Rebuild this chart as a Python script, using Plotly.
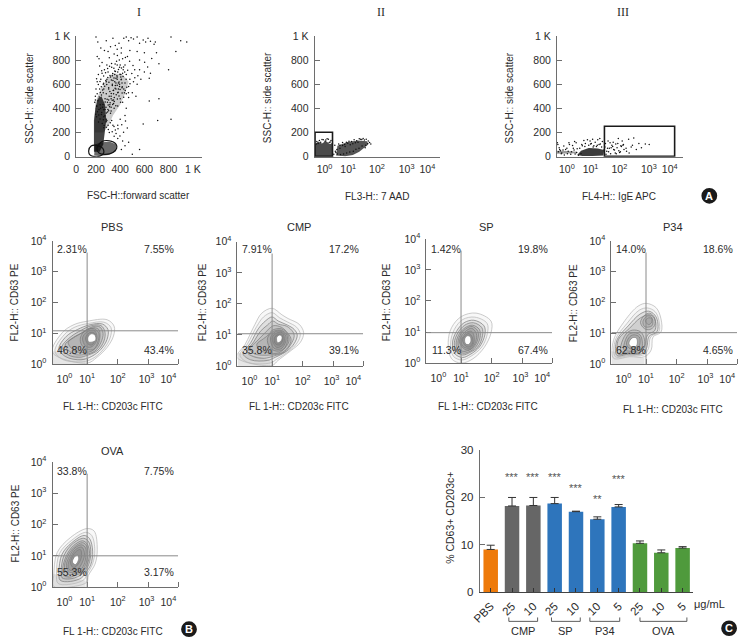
import plotly.graph_objects as go

W, H = 738, 644
FONT = "Liberation Sans, Arial, sans-serif"
TXT = "#2b2b2b"
AX = "#6e6e6e"
FS = 10

# ---------- Panel A data ----------
I_X = [200,215,240,210,225,250,270,285,300,320,340,360,375,390,410,430,450,470,490,510,540,560,590,610,630,650,680,700,690,820,900,950,860,800,720,720,710,820,590,640,640,650,600,560,520,560,600,540,480,460,420,440,400,370,350,310,290,270,250,230,220,200,210,240,300,330,380,420,450,480,510,540,470,440,410,500,530,470,450,430,420,450,440,400,380,360,350,380,420,470,440,410,500,560,330,340,300,310,290,320,350,380,400,380,360,340,320,290,260,260,230,210,195,190,395,415,375,355,335,305,285,345,365,385,405,325,345,365,275,295,315,235,255,275,295,315,335,355,375,395,415,435,245,265,285,305,325,345,365,385,405,425,225,205,195,245,265,285,305,335,355,375,395,345,325,305,285,265,
 205,212,223,238,247,258,264,276,283,292,301,309,317,326,334,342,351,358,367,375,383,391,399,408,417,198,206,216,227,236,244,255,263,272,281,289,298,307,316,327,338,349,361,373,386,398,411,424,437,449,261,273,286,299,312,325,338,351,364,377,390,403,416,429,442,455,468,481,221,234,252,268,285,302,318,334,349,366,382,398,413,428,444,459,348,329,312,296,279,263,247,233,219,205,443,409,377,358,393,428,462,496,521,546,571,506,478,602,627,661]
I_Y = [990,950,900,830,810,780,880,960,870,910,980,920,890,940,900,980,990,960,985,975,990,940,965,950,980,955,930,860,950,990,960,950,870,720,770,480,300,310,270,460,650,690,700,720,720,800,860,870,880,830,810,760,760,790,850,820,760,720,690,750,680,560,620,640,700,740,700,690,680,640,620,600,580,610,640,530,500,490,520,560,450,400,340,310,260,220,170,150,130,120,90,60,20,60,300,260,260,200,300,360,400,420,480,530,590,630,660,640,600,530,560,520,500,450,580,610,640,680,600,560,520,520,560,610,660,480,470,650,480,450,430,430,410,390,370,540,590,620,660,600,570,530,350,330,310,470,500,550,610,560,680,720,390,420,470,510,560,620,570,670,710,760,740,440,410,380,290,240,
 330,372,345,402,365,431,388,452,409,476,428,501,447,523,468,547,489,566,512,591,534,618,556,637,579,352,417,463,495,531,578,552,607,583,631,598,655,617,672,634,688,652,706,669,721,683,735,664,702,641,305,338,362,391,413,378,432,456,421,478,503,451,527,491,548,574,529,603,287,312,274,258,243,226,281,207,249,191,231,172,265,203,296,238,733,772,748,729,695,668,711,622,598,645,822,858,838,767,801,742,716,688,654,671,641,755,791,781,742,812]
I_DENSE_X = [183,183,195,215,245,275,285,270,260,230,183]
I_DENSE_Y = [40,300,400,480,500,430,300,180,100,40,40]
I_BOT_X = [185,190,240,310,370,360,300,225,185]
I_BOT_Y = [10,100,118,125,100,40,15,5,10]
I_MID_X = [190,195,240,290,340,420,470,440,400,340,300,260,190,190]
I_MID_Y = [280,450,560,640,690,680,620,520,430,340,250,200,200,280]
I_GATE1_X = [140,160,205,255,263,235,190,150,140]
I_GATE1_Y = [50,88,94,70,30,6,0,15,50]
I_GATE2_X = [208,250,310,365,371,340,280,225,208]
I_GATE2_Y = [70,125,132,105,70,35,19,30,70]

II_X = [-0.3,-0.2,-0.1,0.05,0.15,0.25,-0.32,-0.15,0.02,0.18,0.3,0.4,0.42,0.48,0.55,0.6,0.7,0.78,0.85,0.95,1.05,1.15,1.25,1.35,1.45,1.55,1.62,1.7,1.75,1.8,1.5,1.4,1.3,1.2,1.1,1.0,0.9,0.8,0.7,0.6,1.6,1.68,1.58,1.46,1.34,1.22,1.12,0.98,0.86,0.74,0.62,0.5,0.44,0.36,-0.25,-0.05,0.1,0.22]
II_Y = [125,135,142,138,145,135,105,120,128,118,110,95,45,60,105,95,118,100,120,128,125,140,132,148,142,138,145,130,118,105,150,145,120,115,108,98,112,85,92,70,95,110,75,88,70,62,45,38,30,22,18,22,35,20,110,140,148,122]
II_D1_X = [-0.385,-0.385,-0.25,-0.1,0.05,0.2,0.32,0.32,-0.385]
II_D1_Y = [2,100,125,110,130,105,110,2,2]
II_D2_X = [0.45,0.5,0.9,1.3,1.65,1.7,1.35,1.1,0.8,0.45]
II_D2_Y = [10,90,122,135,128,100,40,15,3,10]

III_X = [-0.35,-0.3,-0.25,-0.2,-0.12,-0.05,0.02,0.1,0.18,0.25,0.32,0.4,-0.33,-0.22,-0.1,0.05,0.15,0.28,0.38,0.45,0.5,0.58,0.66,0.72,0.8,0.9,1.0,1.1,1.2,1.3,1.38,0.55,0.7,0.85,0.95,1.05,1.15,1.25,1.35,-0.37,-0.28,0.0,0.22,0.36,1.45,1.5,1.55,1.6,1.65,1.7,1.75,1.8,1.85,1.9,1.95,2.0,2.05,2.1,2.15,2.2,2.3,2.4,2.5,2.6,2.7,2.8,2.9,3.05,3.2,1.52,1.62,1.72,1.82,1.92,2.02,2.12,2.22,2.32,2.42,2.55,1.48,1.58,1.68,1.78,1.88,1.98,2.08,2.18,0.3,0.6,0.92,1.02,1.28,1.18,-0.15,0.08]
III_Y = [100,75,50,30,88,60,25,100,40,70,22,65,40,25,15,45,20,55,35,12,70,100,135,110,140,130,145,120,140,105,125,25,85,95,110,90,85,100,80,115,60,70,92,115,60,110,45,130,70,25,95,120,55,105,75,150,35,90,130,100,70,145,80,155,60,110,75,105,100,20,40,75,60,25,50,85,60,45,30,95,80,70,115,85,30,110,40,95,125,90,105,80,150,95,55,115]
III_D1_X = [0.4,0.55,0.85,1.2,1.45,1.42,1.0,0.6,0.4]
III_D1_Y = [15,50,72,68,55,10,5,5,15]
III_D2_X = [-0.385,-0.385,0.0,0.4,0.4,0.0,-0.385]
III_D2_Y = [25,50,48,40,28,26,25]

# ---------- Panel B data: contour outlines in decades ----------
PBS_X = [
 [-0.13,0.19,0.57,1.0,1.65,1.88,1.86,1.65,1.32,1.0,-0.13],
 [-0.05,0.25,0.6,1.05,1.55,1.78,1.75,1.55,1.25,0.9,0.2,-0.05],
 [0.08,0.32,0.68,1.1,1.5,1.68,1.65,1.45,1.15,0.8,0.3,0.08],
 [0.18,0.42,0.72,1.15,1.45,1.58,1.55,1.35,1.05,0.72,0.38,0.18],
 [0.28,0.48,0.8,1.2,1.42,1.52,1.45,1.25,0.98,0.65,0.42,0.28],
 [0.38,0.55,0.85,1.22,1.38,1.42,1.35,1.15,0.9,0.6,0.38],
 [0.78,0.95,1.22,1.38,1.36,1.22,1.0,0.82,0.78],
 [0.85,1.0,1.22,1.32,1.28,1.12,0.95,0.85],
 [0.95,1.08,1.25,1.28,1.15,1.02,0.95],
 [1.02,1.12,1.25,1.28,1.18,1.05,1.02],
]
PBS_Y = [
 [0.38,1.02,1.28,1.39,1.44,1.23,0.91,0.54,0.22,0.03,0.38],
 [0.42,0.95,1.2,1.32,1.36,1.18,0.85,0.5,0.22,0.08,0.15,0.42],
 [0.5,0.9,1.12,1.28,1.3,1.12,0.8,0.48,0.25,0.14,0.24,0.5],
 [0.55,0.85,1.05,1.25,1.25,1.05,0.75,0.45,0.3,0.22,0.3,0.55],
 [0.62,0.82,1.0,1.22,1.2,1.0,0.7,0.42,0.32,0.3,0.42,0.62],
 [0.7,0.85,1.02,1.18,1.12,0.92,0.62,0.42,0.38,0.42,0.7],
 [0.85,1.1,1.15,1.0,0.75,0.48,0.48,0.62,0.85],
 [0.85,1.05,1.1,0.92,0.7,0.55,0.58,0.85],
 [0.85,1.02,1.0,0.82,0.62,0.66,0.85],
 [0.85,0.98,0.95,0.78,0.72,0.72,0.85],
]
CMP_X = [
 [-0.15,0.12,0.44,0.66,1.0,1.32,1.52,1.89,2.03,1.92,1.62,1.19,1.0,-0.15],
 [-0.05,0.2,0.5,0.72,1.0,1.25,1.5,1.8,1.92,1.82,1.55,1.15,0.95,0.2,-0.05],
 [0.05,0.3,0.55,0.78,1.0,1.2,1.5,1.72,1.82,1.72,1.48,1.1,0.85,0.3,0.05],
 [0.18,0.4,0.62,0.85,1.02,1.2,1.48,1.68,1.72,1.6,1.4,1.05,0.75,0.4,0.18],
 [0.28,0.5,0.72,0.9,1.05,1.3,1.52,1.62,1.52,1.3,1.0,0.65,0.4,0.28],
 [0.5,0.72,0.9,1.0,1.3,1.52,1.55,1.42,1.2,0.9,0.62,0.5],
 [0.85,1.05,1.3,1.48,1.5,1.38,1.15,0.92,0.85],
 [0.95,1.1,1.3,1.45,1.42,1.28,1.05,0.95],
 [1.0,1.12,1.32,1.4,1.35,1.15,1.0],
 [1.08,1.2,1.32,1.35,1.25,1.1,1.08],
 [1.15,1.25,1.32,1.3,1.18,1.15],
]
CMP_Y = [
 [0.28,0.7,1.34,1.7,1.86,1.65,1.53,1.34,1.07,0.76,0.5,0.18,0.02,0.28],
 [0.35,0.72,1.28,1.58,1.72,1.55,1.42,1.25,1.02,0.75,0.48,0.22,0.1,0.12,0.35],
 [0.4,0.75,1.2,1.45,1.58,1.45,1.32,1.18,1.0,0.72,0.48,0.28,0.18,0.2,0.4],
 [0.45,0.78,1.12,1.32,1.45,1.35,1.28,1.1,0.95,0.68,0.45,0.32,0.25,0.3,0.45],
 [0.55,0.8,1.02,1.2,1.3,1.25,1.05,0.85,0.6,0.42,0.36,0.35,0.4,0.55],
 [0.7,0.88,1.02,1.15,1.2,1.0,0.8,0.58,0.42,0.42,0.5,0.7],
 [0.9,1.12,1.15,1.0,0.8,0.55,0.48,0.6,0.9],
 [0.92,1.1,1.12,0.95,0.72,0.55,0.58,0.92],
 [0.9,1.05,1.08,0.88,0.68,0.6,0.9],
 [0.92,1.02,1.0,0.85,0.68,0.72,0.92],
 [0.92,1.0,0.95,0.82,0.75,0.92],
]
SP_X = [
 [0.58,0.69,1.01,1.49,1.98,1.98,1.76,1.39,1.01,0.69,0.58],
 [0.66,0.78,1.05,1.45,1.85,1.86,1.68,1.32,1.03,0.75,0.66],
 [0.72,0.85,1.1,1.42,1.75,1.78,1.6,1.3,1.05,0.8,0.72],
 [0.78,0.9,1.12,1.4,1.68,1.7,1.55,1.28,1.05,0.85,0.78],
 [0.84,0.95,1.15,1.38,1.6,1.62,1.48,1.25,1.06,0.9,0.84],
 [0.9,1.0,1.15,1.36,1.55,1.55,1.42,1.22,1.05,0.94,0.9],
 [0.95,1.05,1.18,1.35,1.5,1.48,1.35,1.2,1.05,0.95],
 [1.0,1.1,1.2,1.35,1.42,1.42,1.3,1.18,1.05,1.0],
 [1.05,1.15,1.25,1.36,1.38,1.28,1.15,1.05],
 [1.12,1.2,1.3,1.32,1.25,1.15,1.12],
]
SP_Y = [
 [0.66,1.14,1.5,1.61,1.35,0.98,0.51,0.14,0.0,0.14,0.66],
 [0.65,1.08,1.4,1.48,1.28,0.95,0.52,0.22,0.1,0.22,0.65],
 [0.65,1.02,1.3,1.38,1.2,0.92,0.52,0.28,0.18,0.3,0.65],
 [0.65,0.98,1.22,1.3,1.14,0.88,0.52,0.34,0.26,0.36,0.65],
 [0.65,0.95,1.15,1.22,1.08,0.82,0.52,0.36,0.32,0.42,0.65],
 [0.68,0.95,1.1,1.18,1.02,0.78,0.52,0.4,0.38,0.48,0.68],
 [0.7,0.92,1.05,1.12,0.95,0.7,0.48,0.42,0.5,0.7],
 [0.72,0.9,1.0,1.02,0.88,0.66,0.48,0.48,0.55,0.72],
 [0.75,0.9,0.95,0.85,0.65,0.52,0.55,0.75],
 [0.78,0.88,0.85,0.7,0.6,0.62,0.78],
]
P34_X = [
 [-0.06,0.31,0.74,1.01,1.33,1.49,1.49,1.23,1.17,0.96,0.47,-0.06,-0.06],
 [0.0,0.38,0.78,1.05,1.3,1.42,1.42,1.15,1.08,0.92,0.45,0.0,0.0],
 [0.05,0.42,0.8,1.08,1.28,1.38,1.36,1.1,1.02,0.88,0.42,0.05,0.05],
 [0.1,0.45,0.82,1.1,1.25,1.32,1.28,1.05,0.96,0.82,0.4,0.1,0.1],
 [0.18,0.35,0.55,0.82,0.95,0.92,0.75,0.42,0.18,0.18],
 [0.28,0.42,0.6,0.8,0.88,0.85,0.7,0.42,0.28,0.28],
 [0.36,0.48,0.62,0.78,0.8,0.72,0.48,0.36],
 [0.44,0.55,0.68,0.72,0.68,0.52,0.44],
 [0.82,0.95,1.12,1.28,1.28,1.12,0.95,0.82],
 [0.9,1.02,1.15,1.22,1.2,1.08,0.95,0.9],
 [0.98,1.08,1.18,1.18,1.08,0.98],
]
P34_Y = [
 [0.77,1.41,1.88,1.97,1.83,1.46,1.04,0.88,0.46,0.24,0.24,0.19,0.77],
 [0.78,1.32,1.75,1.82,1.7,1.42,1.05,0.88,0.5,0.3,0.28,0.24,0.78],
 [0.78,1.24,1.62,1.72,1.6,1.38,1.05,0.9,0.52,0.34,0.32,0.28,0.78],
 [0.8,1.15,1.5,1.6,1.52,1.32,1.08,0.95,0.58,0.38,0.35,0.32,0.8],
 [0.6,0.98,1.1,1.05,0.8,0.5,0.36,0.36,0.42,0.6],
 [0.62,0.95,1.02,0.95,0.72,0.5,0.42,0.42,0.46,0.62],
 [0.65,0.9,0.95,0.88,0.65,0.48,0.5,0.65],
 [0.68,0.85,0.85,0.72,0.58,0.56,0.68],
 [1.35,1.58,1.65,1.5,1.25,1.12,1.15,1.35],
 [1.38,1.55,1.55,1.42,1.25,1.2,1.22,1.38],
 [1.4,1.5,1.48,1.35,1.28,1.4],
]
OVA_X = [
 [-0.09,0.02,0.45,0.99,1.23,1.33,1.26,1.04,0.99,0.56,-0.09,-0.09],
 [0.0,0.1,0.5,0.95,1.15,1.25,1.18,1.0,0.9,0.5,0.05,0.0],
 [0.08,0.18,0.5,0.9,1.08,1.18,1.12,0.95,0.82,0.45,0.12,0.08],
 [0.15,0.25,0.52,0.88,1.05,1.12,1.05,0.9,0.75,0.42,0.18,0.15],
 [0.2,0.32,0.55,0.85,1.0,1.08,1.0,0.85,0.68,0.42,0.24,0.2],
 [0.26,0.36,0.58,0.85,0.98,1.02,0.95,0.8,0.62,0.4,0.26],
 [0.32,0.42,0.6,0.82,0.95,0.96,0.9,0.75,0.58,0.42,0.32],
 [0.38,0.48,0.62,0.82,0.9,0.9,0.72,0.55,0.42,0.38],
 [0.46,0.52,0.65,0.78,0.82,0.72,0.56,0.46],
 [0.52,0.6,0.7,0.72,0.62,0.52],
]
OVA_Y = [
 [0.37,1.1,1.58,1.87,1.79,1.21,0.74,0.37,0.16,0.02,0.02,0.37],
 [0.42,1.08,1.5,1.75,1.65,1.18,0.75,0.42,0.24,0.1,0.12,0.42],
 [0.48,1.05,1.42,1.65,1.55,1.15,0.72,0.46,0.3,0.18,0.22,0.48],
 [0.52,1.02,1.38,1.56,1.45,1.12,0.72,0.48,0.36,0.26,0.3,0.52],
 [0.58,1.0,1.32,1.48,1.38,1.08,0.72,0.48,0.4,0.32,0.38,0.58],
 [0.62,0.98,1.28,1.42,1.32,1.05,0.72,0.5,0.44,0.4,0.62],
 [0.68,0.98,1.25,1.35,1.25,1.02,0.72,0.52,0.48,0.48,0.68],
 [0.72,0.98,1.2,1.28,1.15,0.95,0.6,0.54,0.55,0.72],
 [0.75,0.98,1.15,1.2,1.0,0.75,0.62,0.75],
 [0.8,0.98,1.02,0.88,0.72,0.8],
]
LOWER_X = [-0.13,-0.13,0.3,0.95,0.95,-0.13]
LOWER_Y = [0.0,0.42,0.36,0.2,0.0,0.0]

# ---------- Panel C data ----------
BAR_LABELS = ["PBS","25","10","25","10","10","5","25","10","5"]
BAR_VALUES = [9.0,18.2,18.3,18.7,17.0,15.4,18.0,10.3,8.3,9.3]
BAR_ERRORS = [0.9,1.8,1.7,1.3,0.1,0.5,0.5,0.5,0.6,0.3]
BAR_COLORS = ["#EE7A0A","#666666","#666666","#2E75BC","#2E75BC","#2E75BC","#2E75BC","#4F9A3C","#4F9A3C","#4F9A3C"]
STARS = ["","***","***","***","***","**","***","","",""]
STAR_Y = [0,24.4,24.4,24.4,22.0,19.7,24.0,0,0,0]
GROUPS = ["CMP","SP","P34","OVA"]
GROUP_FROM = [0.85,2.85,4.65,7.0]
GROUP_TO = [2.2,4.2,6.05,9.2]

PERCENTS = {
 "PBS": ["2.31%","7.55%","46.8%","43.4%"],
 "CMP": ["7.91%","17.2%","35.8%","39.1%"],
 "SP":  ["1.42%","19.8%","11.3%","67.4%"],
 "P34": ["14.0%","18.6%","62.8%","4.65%"],
 "OVA": ["33.8%","7.75%","55.3%","3.17%"],
}

fig = go.Figure()
layout = dict(width=W, height=H, autosize=False, margin=dict(l=0, r=0, t=0, b=0),
              paper_bgcolor="white", plot_bgcolor="white", showlegend=False,
              font=dict(family=FONT, size=FS, color=TXT))
ann, shp = [], []
n = 0

def text(px, py, s, size=FS, color=TXT, angle=0, family=FONT):
    ann.append(dict(xref="paper", yref="paper", x=px / W, y=1 - py / H, text=s, showarrow=False,
                    font=dict(size=size, color=color, family=family), textangle=angle,
                    xanchor="center", yanchor="middle"))

def axes(l, r, t, b, xr, yr, xvals, xtext, yvals, ytext, xminor=None, stand=5, tfs=FS + 0.5):
    global n
    n += 1
    sx = "" if n == 1 else str(n)
    xa = dict(domain=[l / W, r / W], range=xr, anchor="y" + sx, showgrid=False, zeroline=False,
              showline=True, linecolor=AX, linewidth=1, tickmode="array", tickvals=xvals, ticktext=xtext,
              ticks="", ticklabelstandoff=stand, tickfont=dict(size=tfs, color=TXT, family=FONT))
    if xminor:
        xa["minor"] = dict(tickmode="array", tickvals=xminor, ticks="inside", ticklen=5, tickcolor=AX, tickwidth=1)
    ya = dict(domain=[1 - b / H, 1 - t / H], range=yr, anchor="x" + sx, showgrid=False, zeroline=False,
              showline=True, linecolor=AX, linewidth=1, tickmode="array", tickvals=yvals, ticktext=ytext,
              ticks="inside", ticklen=5, tickcolor=AX, tickwidth=1, ticklabelstandoff=3,
              tickfont=dict(size=tfs, color=TXT, family=FONT))
    layout["xaxis" + sx] = xa
    layout["yaxis" + sx] = ya
    return "x" + sx, "y" + sx

def dots(x, y, xa, ya, size=1.5):
    fig.add_trace(go.Scatter(x=x, y=y, xaxis=xa, yaxis=ya, mode="markers",
                             marker=dict(size=size, color="#111111", line=dict(width=0))))

def blob(x, y, xa, ya, color):
    fig.add_trace(go.Scatter(x=x, y=y, xaxis=xa, yaxis=ya, mode="lines", fill="toself",
                             fillcolor=color, line=dict(width=0)))

def loop(x, y, xa, ya, color="#111111", width=1.2, fill=None):
    kw = dict(fill="toself", fillcolor=fill) if fill else {}
    fig.add_trace(go.Scatter(x=x, y=y, xaxis=xa, yaxis=ya, mode="lines",
                             line=dict(color=color, width=width, shape="spline", smoothing=1), **kw))

def gate(xa, ya, x0, x1, y1):
    shp.append(dict(type="rect", xref=xa, yref=ya, x0=x0, x1=x1, y0=4, y1=y1,
                    line=dict(color="#1a1a1a", width=1.6)))

ssc_vals = [0, 200, 400, 600, 800, 1000]
ssc_text = ["0", "200", "400", "600", "800", "1 K"]
dec = ["10<sup>0</sup>", "10<sup>1</sup>", "10<sup>2</sup>", "10<sup>3</sup>", "10<sup>4</sup>"]

# Panel I
xa, ya = axes(69, 196, 28.5, 152, [37, 1075], [0, 1000], [37, 200, 400, 600, 800, 1000], ssc_text, ssc_vals, ssc_text, stand=3)
blob(I_MID_X, I_MID_Y, xa, ya, "rgba(20,20,20,0.22)")
blob(I_BOT_X, I_BOT_Y, xa, ya, "rgba(5,5,5,0.6)")
blob(I_DENSE_X, I_DENSE_Y, xa, ya, "rgba(5,5,5,0.75)")
dots(I_X, I_Y, xa, ya)
loop(I_GATE1_X, I_GATE1_Y, xa, ya)
loop(I_GATE2_X, I_GATE2_Y, xa, ya)
# Panel II
log_ticks = [0, 0.92, 2.04, 3.19, 4.0]
xa, ya = axes(310, 437, 28.5, 152, [-0.385, 4.5], [0, 1000], log_ticks, dec, ssc_vals, ssc_text, stand=3)
blob(II_D1_X, II_D1_Y, xa, ya, "rgba(5,5,5,0.72)")
blob(II_D2_X, II_D2_Y, xa, ya, "rgba(5,5,5,0.68)")
dots(II_X, II_Y, xa, ya)
gate(xa, ya, -0.37, 0.31, 202)
# Panel III
xa, ya = axes(555, 682, 28.5, 152, [-0.385, 4.5], [0, 1000], log_ticks, dec, ssc_vals, ssc_text, stand=3)
blob(III_D2_X, III_D2_Y, xa, ya, "rgba(5,5,5,0.4)")
blob(III_D1_X, III_D1_Y, xa, ya, "rgba(5,5,5,0.78)")
dots(III_X, III_Y, xa, ya)
gate(xa, ya, 1.46, 4.19, 252)

for s, px in (("I", 132), ("II", 377), ("III", 622)):
    text(px, 4, s, size=12, family="Liberation Serif, serif")
text(132, 192, "FSC-H::forward scatter")
text(373, 193, "FL3-H:: 7 AAD")
text(618, 193, "FL4-H:: IgE APC")
for px in (22, 263, 508):
    text(px, 92, "SSC-H:: side scatter", angle=-90)

# Panel B
flow_ticks = [0.26, 1, 2, 2.94, 3.65]
WHITE_RING = {"P34": 7}
panels = [
 ("PBS", 45, 238, 364, PBS_X, PBS_Y, 105, 224, 7, 301, 106, 407, True, 246, 350, 1.08),
 ("CMP", 232, 239, 366, CMP_X, CMP_Y, 294, 224, 197, 301, 294, 407, True, 246, 350, 1.04),
 ("SP", 423, 236, 363, SP_X, SP_Y, 484, 224, 383, 301, 485, 407, False, 246, 350, 0.98),
 ("P34", 610, 238, 364, P34_X, P34_Y, 672, 224, 572, 302, 672, 410, True, 246, 350, 1.02),
 ("OVA", 45, 464, 592, OVA_X, OVA_Y, 106, 453, 8, 527, 106, 637, True, 473, 577, 1.0),
]
for name, l, t, b, rx, ry, tx, ty, yx, yy, fx, fy, low, p_top, p_bot, hline in panels:
    xa, ya = axes(l, l + 127, t, b, [-0.13, 3.97], [0, 4], flow_ticks, dec, [0, 1, 2, 3, 4], dec,
                  xminor=[1, 2, 3, 3.97])
    if low:
        fig.add_trace(go.Scatter(x=LOWER_X, y=LOWER_Y, xaxis=xa, yaxis=ya, mode="lines", fill="toself",
                                 fillcolor="#e6e6e6", line=dict(width=0)))
    white = WHITE_RING.get(name, len(rx) - 1)
    for i, (cx, cy) in enumerate(zip(rx, ry)):
        fill = "#ffffff" if i == white else ("rgba(70,70,70,0.04)" if i < 2 else "rgba(60,60,60,0.09)")
        loop(cx, cy, xa, ya, color="#b4b4b4" if i < 2 else "#7a7a7a", width=0.7, fill=fill)
    shp.append(dict(type="line", xref=xa, yref="paper", x0=1, x1=1, y0=1 - b / H, y1=1 - (t + 12) / H,
                    line=dict(color="#8a8a8a", width=1)))
    shp.append(dict(type="line", xref=xa, yref=ya, x0=-0.13, x1=3.97, y0=hline, y1=hline,
                    line=dict(color="#8a8a8a", width=1)))
    text(tx, ty, name, size=FS + 1)
    text(yx, yy, "FL2-H:: CD63 PE", angle=-90)
    text(fx, fy, "FL 1-H:: CD203c FITC")
    vals = PERCENTS[name]
    text(l + 20, p_top, vals[0], size=FS + 0.5)
    text(l + 108, p_top, vals[1], size=FS + 0.5)
    text(l + 20, p_bot, vals[2], size=FS + 0.5)
    text(l + 108, p_bot, vals[3], size=FS + 0.5)

# Panel C
xa, ya = axes(477, 693, 452, 597, [-0.51, 9.51], [0, 30], list(range(10)), BAR_LABELS, [0, 10, 20, 30],
              ["0", "10", "20", "30"], tfs=11.5)
layout[xa.replace("x", "xaxis")].update(tickangle=-45, ticks="inside", ticklen=4, tickcolor="#333333",
                                        ticklabelstandoff=2, linecolor="#444444")
fig.add_trace(go.Bar(x=list(range(10)), y=BAR_VALUES, xaxis=xa, yaxis=ya, width=0.68,
                     marker=dict(color=BAR_COLORS, line=dict(width=0)),
                     error_y=dict(type="data", array=BAR_ERRORS, symmetric=False, arrayminus=[0] * 10,
                                  color="#333333", thickness=1, width=4)))
for i, (s, sy) in enumerate(zip(STARS, STAR_Y)):
    if s:
        ann.append(dict(xref=xa, yref=ya, x=i, y=sy, text=s, showarrow=False,
                        font=dict(size=11, color="#555555", family=FONT)))
for g, a, b in zip(GROUPS, GROUP_FROM, GROUP_TO):
    y0, y1 = 1 - 627 / H, 1 - 623 / H
    for x0, x1, yy0, yy1 in ((a, b, y0, y0), (a, a, y0, y1), (b, b, y0, y1)):
        shp.append(dict(type="line", xref=xa, yref="paper", x0=x0, x1=x1, y0=yy0, y1=yy1,
                        line=dict(color="#333333", width=0.8)))
    ann.append(dict(xref=xa, yref="paper", x=(a + b) / 2, y=1 - 637 / H, text=g, showarrow=False,
                    yanchor="middle", font=dict(size=11, color=TXT, family=FONT)))
text(709, 609, "μg/mL", size=11)
text(447, 521, "% CD63+ CD203c+", angle=-90, size=10.5)

# Panel letters
for s, cx, cy in (("A", 709, 192), ("B", 183, 635), ("C", 729, 634)):
    shp.append(dict(type="circle", xref="paper", yref="paper", x0=(cx - 8) / W, x1=(cx + 8) / W,
                    y0=1 - (cy + 8) / H, y1=1 - (cy - 8) / H, fillcolor="#1a1a1a", line=dict(width=0)))
    text(cx, cy, "<b>" + s + "</b>", size=11, color="white", family="Liberation Sans, sans-serif")

layout["annotations"] = ann
layout["shapes"] = shp
fig.update_layout(**layout)
fig.write_html("out.html", config={"displayModeBar": False}, post_script="document.body.style.margin='0';")
